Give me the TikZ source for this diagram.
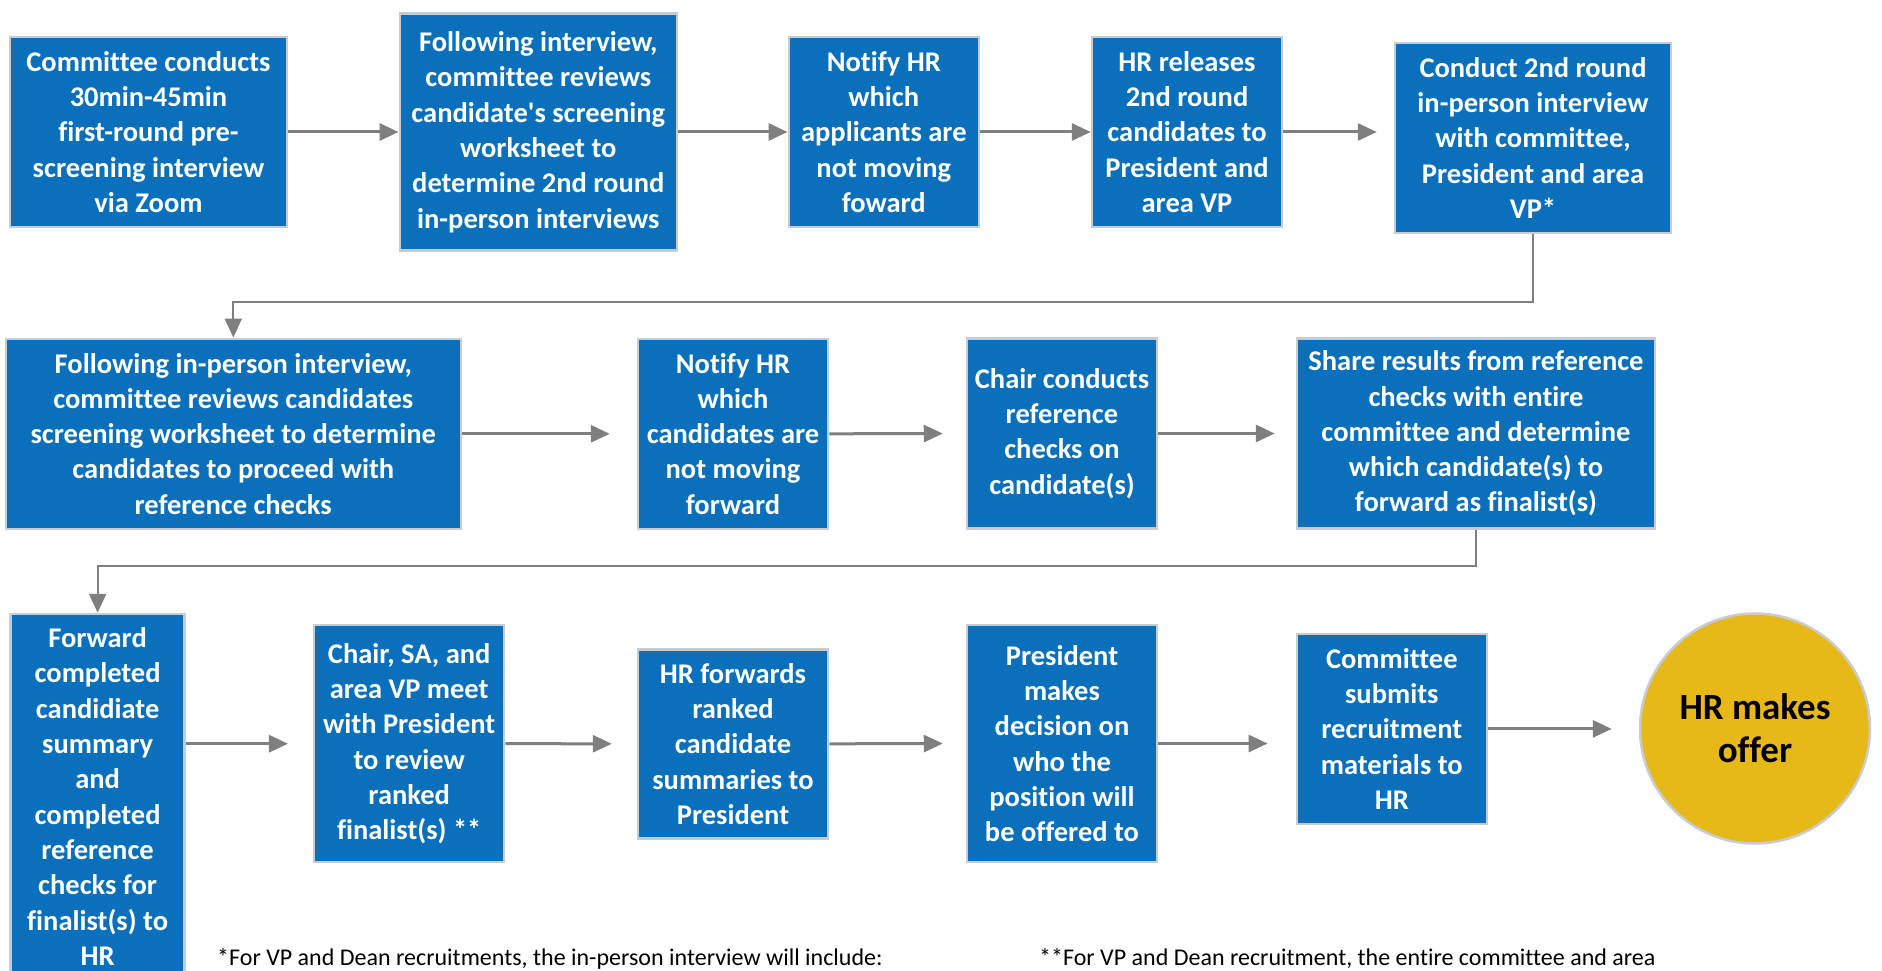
\documentclass[tikz,border=0pt]{standalone}
\usepackage{fontspec}
\setmainfont{Carlito}[Ligatures={TeXOff,NoCommon}]
\usetikzlibrary{arrows.meta}
\definecolor{boxblue}{RGB}{11,112,188}
\definecolor{boxedge}{RGB}{200,203,207}
\definecolor{arrowgray}{RGB}{127,127,127}
\definecolor{offergold}{RGB}{230,185,24}
\begin{document}
\begin{tikzpicture}[x=1pt,y=-1pt,
 stepbox/.style={draw=boxedge, line width=2.5pt, fill=boxblue, text=white, inner sep=0pt, align=center, font=\bfseries\fontsize{28.5}{35.3}\selectfont},
 flow/.style={draw=arrowgray, line width=3pt, -{Triangle[length=19pt,width=17pt]}},
 elbow/.style={draw=arrowgray, line width=2pt, -{Triangle[length=19pt,width=17pt]}},
 note/.style={font=\fontsize{24}{28}\selectfont, anchor=base west, inner sep=0pt}]
\useasboundingbox (0,0) rectangle (1882,971);
\clip (0,0) rectangle (1882,971);
% row 1
\node[stepbox, minimum width=277pt, minimum height=190pt] (b1) at (148.5,132) {Committee conducts\\30min-45min\\first-round pre-\\screening interview\\via Zoom};
\node[stepbox, minimum width=277pt, minimum height=237pt] (b2) at (538.3,132) {Following interview,\\committee reviews\\candidate's screening\\worksheet to\\determine 2nd round\\in-person interviews};
\node[stepbox, minimum width=190pt, minimum height=190pt] (b3) at (883.8,132) {Notify HR\\which\\applicants are\\not moving\\foward};
\node[stepbox, minimum width=190pt, minimum height=190pt] (b4) at (1187,132) {HR releases\\2nd round\\candidates to\\President and\\area VP};
\node[stepbox, minimum width=276pt, minimum height=190pt] (b5) at (1533,138) {Conduct 2nd round\\in-person interview\\with committee,\\President and area\\VP*};
% row 2
\node[stepbox, minimum width=455pt, minimum height=190pt] (b6) at (233.3,433.8) {Following in-person interview,\\committee reviews candidates\\screening worksheet to determine\\candidates to proceed with\\reference checks};
\node[stepbox, minimum width=190pt, minimum height=190pt] (b7) at (733,433.8) {Notify HR\\which\\candidates are\\not moving\\forward};
\node[stepbox, minimum width=190pt, minimum height=190pt] (b8) at (1062,433.5) {Chair conducts\\reference\\checks on\\candidate(s)};
\node[stepbox, minimum width=358pt, minimum height=190pt] (b9) at (1476,433.5) {Share results from reference\\checks with entire\\committee and determine\\which candidate(s) to\\forward as finalist(s)};
% row 3
\node[stepbox, minimum width=174pt, minimum height=365pt] (b10) at (97.6,796.5) {Forward\\completed\\candidiate\\summary\\and\\completed\\reference\\checks for\\finalist(s) to\\HR};
\node[stepbox, minimum width=190pt, minimum height=237pt] (b11) at (409.2,743.7) {Chair, SA, and\\area VP meet\\with President\\to review\\ranked\\finalist(s) **};
\node[stepbox, minimum width=190pt, minimum height=189pt] (b12) at (733,743.8) {HR forwards\\ranked\\candidate\\summaries to\\President};
\node[stepbox, minimum width=190pt, minimum height=237pt] (b13) at (1062,743.5) {President\\makes\\decision on\\who the\\position will\\be offered to};
\node[stepbox, minimum width=190pt, minimum height=190pt] (b14) at (1391.8,728.9) {Committee\\submits\\recruitment\\materials to\\HR};
\node[circle, draw=boxedge, line width=2.5pt, fill=offergold, minimum size=230pt, inner sep=0pt, align=center, font=\bfseries\fontsize{37}{43}\selectfont] (offer) at (1755,728.5) {HR makes\\offer};
% connectors
\draw[flow] (b1.east) -- (b2.west);
\draw[flow] (b2.east) -- (b3.west);
\draw[flow] (b3.east) -- (b4.west);
\draw[flow, shorten >=17pt] (b4.east) -- (b4.east -| b5.west);
\draw[elbow] (b5.south) -- ++(0,67.7) -| (b6.north);
\draw[flow, shorten >=27pt] (b6.east) -- (b7.west);
\draw[flow, shorten >=23pt] (b7.east) -- (b8.west);
\draw[flow, shorten >=21pt] (b8.east) -- (b9.west);
\draw[elbow] (b9.south) -- ++(0,36) -| (b10.north);
\draw[flow, shorten >=25pt] (b10.east |- b11.west) -- (b11.west);
\draw[flow, shorten >=25pt] (b11.east) -- (b12.west);
\draw[flow, shorten >=23pt] (b12.east) -- (b13.west);
\draw[flow, shorten >=28pt] (b13.east) -- (b13.east -| b14.west);
\draw[flow, shorten >=27pt] (b14.east) -- (b14.east -| offer.west);
% notes
\node[note] (n1) at (217,965) {*For VP and Dean recruitments, the in-person interview will include:};
\node[note] (n2) at (1039,965) {**For VP and Dean recruitment, the entire committee and area};
\end{tikzpicture}
\end{document}
